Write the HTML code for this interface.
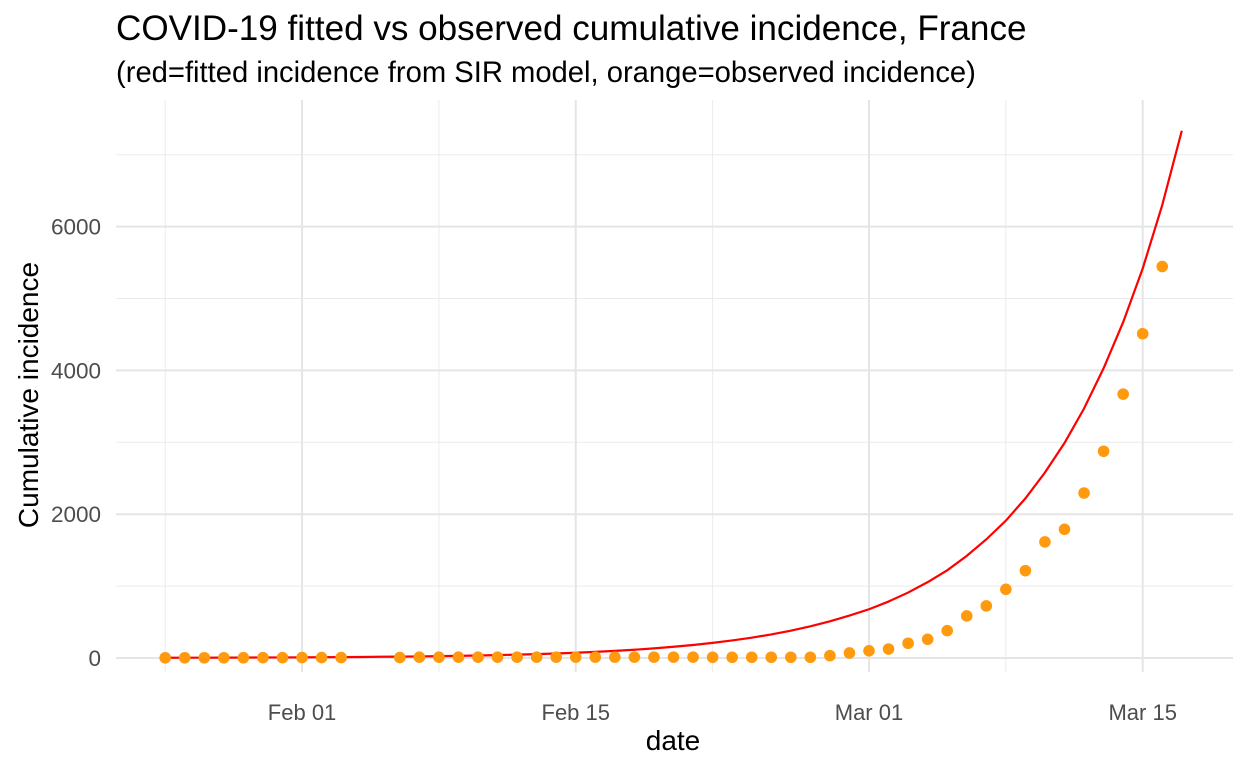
<!DOCTYPE html>
<html><head><meta charset="utf-8"><style>
body{margin:0;background:#fff;}
svg text{font-family:"Liberation Sans",sans-serif;}
</style></head><body>
<svg width="1248" height="768">
<text x="116" y="40" font-size="35.1" fill="#000">COVID-19 fitted vs observed cumulative incidence, France</text>
<text x="116" y="82" font-size="29.2" fill="#000">(red=fitted incidence from SIR model, orange=observed incidence)</text>
<g id="grid"></g>
<g id="marks"></g>
<text x="673" y="750" font-size="28" text-anchor="middle">date</text>
<text transform="translate(38,395) rotate(-90)" font-size="28" text-anchor="middle">Cumulative incidence</text>
</svg>
<script>
const xTickLabels=["Feb 01","Feb 15","Mar 01","Mar 15"];
const xTickDays=[7,21,36,50];
const xMinorDays=[0,14,28,43];
const yTicks=[0,2000,4000,6000];
const yMinor=[1000,3000,5000,7000];
const obsDays=[0,1,2,3,4,5,6,7,8,9,12,13,14,15,16,17,18,19,20,21,22,23,24,25,26,27,28,29,30,31,32,33,34,35,36,37,38,39,40,41,42,43,44,45,46,47,48,49,50,51];
const obsValues=[3,3,3,3,4,5,5,6,6,6,6,11,11,11,11,11,11,11,12,12,12,12,12,12,12,12,10,10,10,10,10,10,33,70,100,125,205,260,380,585,725,955,1215,1615,1790,2295,2875,3670,4510,5445];
const fitValues=[3,4,4,5,6,7,8,9,11,12,14,17,19,22,26,30,35,40,47,54,63,73,85,99,115,134,156,181,210,244,283,328,380,440,510,590,678,785,910,1055,1220,1420,1650,1910,2220,2580,2990,3470,4030,4670,5417,6300,7333];
const X=d=>869+(d-36)*19.55;
const Y=v=>658-v*0.0719;
const ns="http://www.w3.org/2000/svg";
const grid=document.getElementById('grid'),marks=document.getElementById('marks');
function mk(tag,attrs,parent){const e=document.createElementNS(ns,tag);for(const k in attrs)e.setAttribute(k,attrs[k]);parent.appendChild(e);return e;}
yMinor.forEach(v=>{const l=mk('line',{x1:116,x2:1233,y1:Y(v),y2:Y(v),stroke:'#ebebeb','stroke-width':1},grid);

});
xMinorDays.forEach(d=>{const l=mk('line',{x1:X(d),x2:X(d),y1:100,y2:672,stroke:'#ebebeb','stroke-width':1},grid);

});
yTicks.forEach(v=>{const l=mk('line',{x1:116,x2:1233,y1:Y(v),y2:Y(v),stroke:'#e5e5e5','stroke-width':2},grid);


const t=mk('text',{x:101,y:Y(v)+8,'text-anchor':'end','font-size':22.5,fill:'#4d4d4d'},grid);t.textContent=v;

});
xTickDays.forEach((d,i)=>{const l=mk('line',{x1:X(d),x2:X(d),y1:100,y2:672,stroke:'#e5e5e5','stroke-width':2},grid);


const t=mk('text',{x:X(d),y:720,'text-anchor':'middle','font-size':22,fill:'#4d4d4d'},grid);t.textContent=xTickLabels[i];

});
const p=mk('polyline',{points:fitValues.map((v,i)=>X(i)+','+Y(v)).join(' '),fill:'none',stroke:'#ff0000','stroke-width':2.2},marks);


obsDays.forEach((d,i)=>{const c=mk('circle',{cx:X(d),cy:Y(obsValues[i]),r:5.8,fill:'#ff9a0e'},marks);

});
</script>
</body></html>
